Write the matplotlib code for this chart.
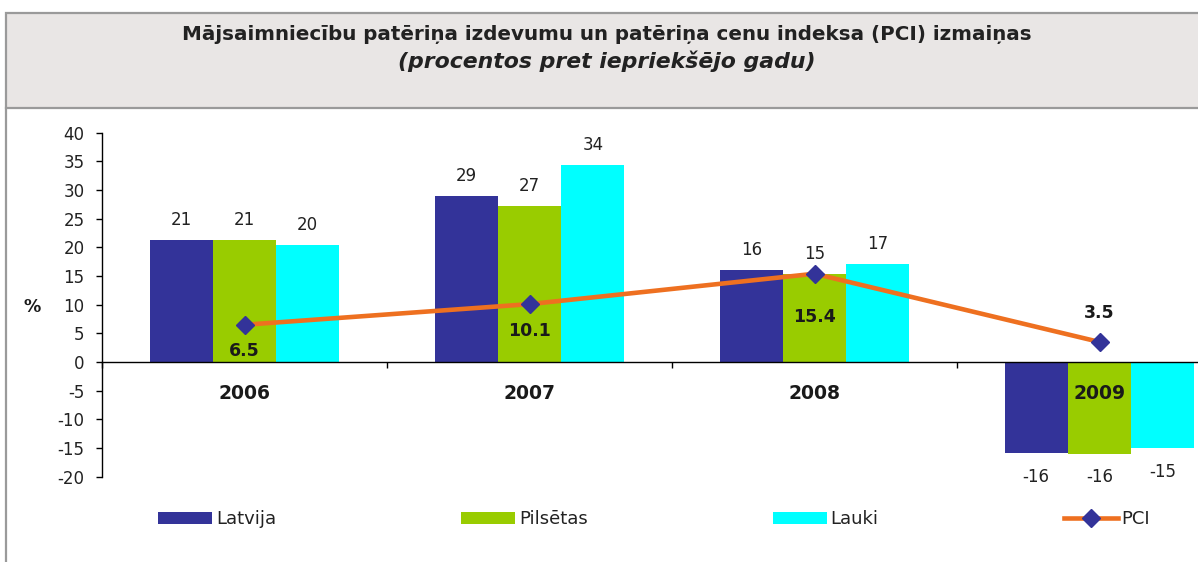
import matplotlib
matplotlib.use("Agg")
import matplotlib.pyplot as plt
from matplotlib.patches import Rectangle
from matplotlib.lines import Line2D
import numpy as np

plt.rcParams["axes.unicode_minus"] = False

# ---- data ----
years = ["2006", "2007", "2008", "2009"]
latvija = [21.3, 29.0, 16.1, -15.9]
pilsetas = [21.3, 27.2, 15.4, -16.0]
lauki = [20.4, 34.4, 17.1, -15.0]
pci = [6.5, 10.1, 15.4, 3.5]
series_names = ["Latvija", "Pilsētas", "Lauki"]
title1 = "Mājsaimniecību patēriņa izdevumu un patēriņa cenu indeksa (PCI) izmaiņas"
title2 = "(procentos pret iepriekšējo gadu)"

W, H = 1198, 562
fig = plt.figure(figsize=(W / 100, H / 100), dpi=100)
fig.patch.set_facecolor("white")

def fx(px):
    return px / W

def fy(py):
    return 1 - py / H

# title box
fig.patches.append(Rectangle((fx(6), fy(108)), fx(1300), fy(13) - fy(108),
                             transform=fig.transFigure, facecolor="#E9E6E5",
                             edgecolor="#9A9A9A", linewidth=1.6, zorder=0))
fig.lines.append(Line2D([fx(6), fx(6)], [fy(108), 0], transform=fig.transFigure,
                        color="#9A9A9A", linewidth=1.6))
fig.text(fx(607), fy(34), title1, ha="center", va="center", fontsize=14.3,
         fontweight="bold", color="#222222")
fig.text(fx(607), fy(61), title2, ha="center", va="center", fontsize=15.8,
         fontweight="bold", fontstyle="italic", color="#222222")

# axes
ax = fig.add_axes([fx(102), fy(476.7), fx(1242 - 102), fy(132.7) - fy(476.7)])
ax.set_facecolor("none")
x = np.arange(len(years))
bw = 0.222
colors = ["#333399", "#99CC00", "#00FFFF"]
bar_handles = []
for i, (vals, col, name) in enumerate(zip([latvija, pilsetas, lauki], colors, series_names)):
    pos = x + (i - 1) * bw
    bars = ax.bar(pos, vals, width=bw, color=col, label=name, zorder=1)
    bar_handles.append(bars)
    for xp, v in zip(pos, vals):
        off = 14.5 if v >= 0 else -17
        ax.annotate(f"{v:.0f}", (xp, v), xytext=(0, off), textcoords="offset points",
                    ha="center", va="center", fontsize=12, color="#222222")

line, = ax.plot(x, pci, color="#EE7020", linewidth=3.3, marker="D", markersize=9,
                markerfacecolor="#333399", markeredgecolor="#333399", zorder=3, label="PCI")
pci_offsets = [-19, -19, -31, 21]
for xp, v, off in zip(x, pci, pci_offsets):
    ax.annotate(f"{v}", (xp, v), xytext=(0, off), textcoords="offset points",
                ha="center", va="center", fontsize=12.5, fontweight="bold",
                color="#1a1a1a", zorder=4)

ax.set_xlim(-0.5, 3.5)
ax.set_ylim(-20, 40)
ax.set_yticks(np.arange(-20, 41, 5))
ax.tick_params(axis="y", direction="out", length=4.5, width=1, pad=8, labelsize=12,
               labelcolor="#222222")
ax.spines["top"].set_visible(False)
ax.spines["right"].set_visible(False)
ax.spines["bottom"].set_position(("data", 0))
ax.spines["bottom"].set_zorder(2)
ax.spines["left"].set_linewidth(1)
ax.spines["bottom"].set_linewidth(1)
ax.set_xticks(np.arange(-0.5, 3.6, 1.0))
ax.set_xticklabels([])
ax.tick_params(axis="x", which="major", direction="out", length=4, width=1)
ax.set_xticks(x, minor=True)
ax.set_xticklabels(years, minor=True, fontsize=13.5, fontweight="bold", color="#1a1a1a")
ax.tick_params(axis="x", which="minor", length=0, pad=16)
for lab in ax.get_xticklabels(minor=True):
    lab.set_zorder(5)

fig.text(fx(32), fy(307), "%", ha="center", va="center", fontsize=12.5,
         fontweight="bold", color="#1a1a1a")

handles = bar_handles + [line]
labels = series_names + ["PCI"]
leg = fig.legend(handles, labels, loc="center left", bbox_to_anchor=(fx(151), fy(519)),
                 ncol=4, frameon=False, fontsize=13, handlelength=3.0, handleheight=0.65,
                 handletextpad=0.2, columnspacing=10.25, borderaxespad=0)
for t in leg.get_texts():
    t.set_color("#222222")

fig.savefig("out.png", dpi=100)
